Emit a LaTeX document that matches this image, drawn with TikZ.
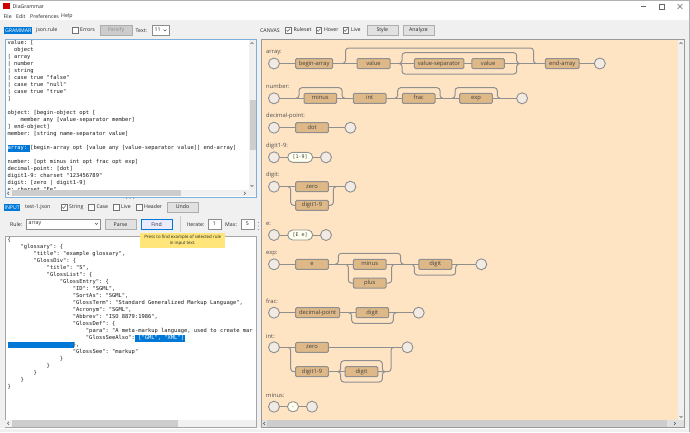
\documentclass[tikz,border=0pt]{standalone}
\usepackage{fontspec}
\setmainfont{Open Sans}
\setmonofont{DejaVu Sans Mono}
\usetikzlibrary{positioning, calc}

\definecolor{wingray}{HTML}{F0F0F0}
\definecolor{canvasbg}{HTML}{FFE4C4}
\definecolor{rulefill}{HTML}{DEB887}
\definecolor{wiregray}{HTML}{8F8F8F}
\definecolor{endfill}{HTML}{F2EBE4}
\definecolor{pillfill}{HTML}{FFFFF0}
\definecolor{selblue}{HTML}{0078D7}
\definecolor{barthumb}{HTML}{CDCDCD}
\definecolor{btnfill}{HTML}{E1E1E1}
\definecolor{btnline}{HTML}{ADADAD}
\definecolor{tipfill}{HTML}{FFE57A}
\definecolor{focusblue}{HTML}{7FB0DC}

\newcommand\uifont{\fontsize{5.2}{6.2}\selectfont}
\newcommand\indt[1]{\hspace*{#1\dimexpr 3.27pt\relax}}

\begin{document}
\begin{tikzpicture}[
    x=1pt, y=-1pt,
    rulebox/.style={rectangle, rounded corners=1.2pt, draw=wiregray, line width=1pt, fill=rulefill, minimum height=10pt, text height=4.2pt, text depth=1.2pt, inner sep=0pt, outer sep=0pt, text=black!75, font=\fontsize{5.8}{6.5}\selectfont},
    endpt/.style={circle, draw=wiregray, line width=.9pt, fill=endfill, minimum size=11pt, inner sep=0pt, outer sep=0pt},
    pill/.style={rectangle, rounded corners=5pt, draw=wiregray, line width=.9pt, fill=pillfill, minimum height=10pt, text height=4.2pt, text depth=1.2pt, inner sep=0pt, outer sep=0pt, text=black!75, font=\ttfamily\fontsize{5}{6}\selectfont},
    wire/.style={draw=wiregray, line width=1pt, rounded corners=3pt},
    hop/.style={to path={-- ($(\tikztostart)+(3,0)$) -- ($(\tikztostart)+(3,#1)$) -- ($(\tikztotarget)+(-3,#1)$) -- ($(\tikztotarget)+(-3,0)$) -- (\tikztotarget)}},
    rulename/.style={anchor=west, inner sep=0pt, text=black!70, font=\fontsize{5.8}{6.5}\selectfont},
    uitext/.style={anchor=west, inner sep=0pt, text=black!85, font=\uifont},
    tag/.style={anchor=west, inner sep=0pt, fill=selblue, text=white, minimum height=6.8pt, font=\uifont},
    btn/.style={rectangle, draw=btnline, fill=btnfill, line width=.6pt, minimum width=31pt, minimum height=10pt, inner sep=0pt, text=black!85, font=\uifont},
    chk/.style={rectangle, draw=black!55, fill=white, line width=.4pt, minimum size=5.6pt, inner sep=0pt},
    chkon/.style={chk, path picture={\draw[black!70, line width=.45pt] ($(path picture bounding box.center)+(-1.8,0)$) -- ++(1.2,1.4) -- ++(2.3,-2.8);}},
    field/.style={rectangle, draw=black!45, fill=white, line width=.4pt, inner sep=0pt, minimum height=10pt, text=black!85, font=\uifont},
    combo/.style={field, inner xsep=2.5pt, align=left},
    panel/.style={rectangle, anchor=north west, fill=white, inner sep=0pt},
    code/.style={anchor=north west, inner sep=0pt, align=left, text=black!90, font=\ttfamily\fontsize{5.43}{7}\selectfont},
    selbar/.style={anchor=west, fill=selblue, inner sep=0pt, minimum height=6.9pt},
    thumb/.style={fill=barthumb, draw=none},
    tick/.style={draw=black!65, line width=.5pt}
]
\useasboundingbox (0,0) rectangle (690,432);

% Window
\fill[wingray] (0,0) rectangle (690,432);
\fill[white] (0,1) rectangle (689,20);
\fill[black!30] (0,0) rectangle (690,.8);
\fill[black!30] (689,0) rectangle (690,432);
\fill[white] (0,428) rectangle (689,429);
\draw[black!60, line width=.5pt] (640.5,6.5) -- (645.5,6.5);
\draw[black!60, line width=.5pt] (659,4) rectangle (664,9);
\draw[black!60, line width=.5pt] (677.5,4) -- (682.5,9) (682.5,4) -- (677.5,9);

% Title and menu
\node[rectangle, fill=red!80!black, minimum width=6.5pt, minimum height=6pt, inner sep=0pt] (appIcon) at (6.6,6.2) {};
\node[uitext, right=2.4pt of appIcon] (appTitle) {DiaGrammar};
\node[uitext] (mnuFile) at (3.3,16.5) {File};
\node[uitext] (mnuEdit) at (16,16.5) {Edit};
\node[uitext] (mnuPrefs) at (30,16.5) {Preferences};
\node[uitext] (mnuHelp) at (61,16.5) {Help};

% Grammar toolbar
\node[tag, minimum width=28pt] (tagGrammar) at (4,30.5) {GRAMMAR};
\node[uitext] (txtRuleFile) at (36,30.5) {json.rule};
\node[chk] (chkErrors) at (75,30) {};
\node[uitext, right=2pt of chkErrors] (txtErrors) {Errors};
\node[btn, minimum width=32pt, fill=black!20, text=black!45] (btnParsify) at (116,30) {Parsify};
\node[uitext] (txtSize) at (135.5,30.5) {Text:};
\node[combo, anchor=west, text width=12pt] (fldSize) at (152,30) {11};
\draw[tick] (163.5,29.5) -- (165,31) -- (166.5,29.5);

% Grammar panel
\node[panel, minimum width=251pt, minimum height=157pt] (grammarPanel) at (5,39.5) {};
\node[selbar, minimum width=22.7pt] (selArray) at (7.3,148.3) {};
\node[code] (grammarText) at (7.3,40.4) {value: [\\
\indt{2}object\\
| array\\
| number\\
| string\\
| case true "false"\\
| case true "null"\\
| case true "true"\\
]\\
\mbox{}\\
object: [begin-object opt [\\
\indt{4}member any [value-separator member]\\
] end-object]\\
member: [string name-separator value]\\
\mbox{}\\
\textcolor{white}{array:} [begin-array opt [value any [value-separator value]] end-array]\\
\mbox{}\\
number: [opt minus int opt frac opt exp]\\
decimal-point: [dot]\\
digit1-9: charset "123456789"\\
digit: [zero | digit1-9]\\
e: charset "Ee"};
\fill[wingray] (249,40) rectangle (256,196);
\fill[wingray] (5,190) rectangle (256,196);
\fill[thumb] (249.5,100) rectangle (255.5,150);
\fill[thumb] (12,190) rectangle (181,196);
\draw[tick] (250.5,44) -- (252,42.5) -- (253.5,44);
\draw[tick] (250.5,185) -- (252,186.5) -- (253.5,185);
\draw[tick] (9,191.8) -- (7.5,193.3) -- (9,194.8);
\draw[tick] (244,191.8) -- (245.5,193.3) -- (244,194.8);
\draw[focusblue, line width=.8pt] (grammarPanel.north west) rectangle (grammarPanel.south east);
\foreach \dotx in {126.5,130,133.5} \fill[black!50] (\dotx,198.3) circle (.45);

% Input toolbar
\node[tag, minimum width=16pt] (tagInput) at (4,207.5) {INPUT};
\node[uitext] (txtInputFile) at (25,207.5) {test-1.json};
\node[chkon] (chkString) at (64,207) {};
\node[uitext, right=2pt of chkString] (txtString) {String};
\node[chk] (chkCase) at (91.3,207) {};
\node[uitext, right=2pt of chkCase] (txtCase) {Case};
\node[chk] (chkLive) at (116,207) {};
\node[uitext, right=2pt of chkLive] (txtLive) {Live};
\node[chk] (chkHeader) at (139,207) {};
\node[uitext, right=2pt of chkHeader] (txtHeader) {Header};
\node[btn] (btnUndo) at (182.5,207) {Undo};
\draw[black!20, line width=.4pt] (180,216) -- (180,232);

% Rule selector
\node[uitext] (txtRule) at (10,224.5) {Rule:};
\node[combo, anchor=west, text width=69pt] (fldRule) at (26,224) {array};
\draw[tick] (95,223) -- (96.5,224.5) -- (98,223);
\node[btn] (btnParse) at (120.5,224.5) {Parse};
\node[btn, fill=blue!8, draw=selblue] (btnFind) at (156.5,224.5) {Find};
\node[uitext] (txtIterate) at (187,224.5) {Iterate:};
\node[field, anchor=west, minimum width=12.5pt] (fldIterate) at (208,224) {1};
\node[uitext] (txtMax) at (225,224.5) {Max:};
\node[field, anchor=west, minimum width=12.5pt] (fldMax) at (241,224) {5};

% Input panel
\node[panel, draw=black!35, line width=.5pt, minimum width=251pt, minimum height=191pt] (inputPanel) at (5,236) {};
\node[selbar, minimum width=50pt] (selSeeAlso) at (135,338.2) {};
\node[selbar, minimum width=66pt] (selBlank) at (7.3,345) {};
\node[code] (inputText) at (7.3,237.1) {\{\\
\indt{4}"glossary": \{\\
\indt{8}"title": "example glossary",\\
\indt{8}"GlossDiv": \{\\
\indt{12}"title": "S",\\
\indt{12}"GlossList": \{\\
\indt{16}"GlossEntry": \{\\
\indt{20}"ID": "SGML",\\
\indt{20}"SortAs": "SGML",\\
\indt{20}"GlossTerm": "Standard Generalized Markup Language",\\
\indt{20}"Acronym": "SGML",\\
\indt{20}"Abbrev": "ISO 8879:1986",\\
\indt{20}"GlossDef": \{\\
\indt{24}"para": "A meta-markup language, used to create mar\\
\indt{24}"GlossSeeAlso": \textcolor{white}{["GML", "XML"]}\\
\indt{20}\},\\
\indt{20}"GlossSee": "markup"\\
\indt{16}\}\\
\indt{12}\}\\
\indt{8}\}\\
\indt{4}\}\\
\}};
\fill[wingray] (5.3,420) rectangle (255.7,426.7);
\fill[thumb] (12,420) rectangle (178,426.5);
\draw[tick] (9,421.8) -- (7.5,423.3) -- (9,424.8);

% Tooltip
\node[rectangle, anchor=north west, fill=tipfill, minimum width=85pt, minimum height=15pt, inner sep=0pt, align=center, text=black!85, font=\fontsize{4.4}{6.2}\selectfont] (tipFind) at (140,233) {Press to find example of selected rule\\in input text.};

% Splitter
\foreach \doty in {222.5,226,229.5} \fill[black!50] (258.4,\doty) circle (.45);

% Canvas toolbar
\node[uitext] (txtCanvas) at (260,30.5) {CANVAS};
\node[chkon] (chkRuleset) at (288.3,30) {};
\node[uitext, right=2pt of chkRuleset] (txtRuleset) {Ruleset};
\node[chkon] (chkHover) at (318.8,30) {};
\node[uitext, right=2pt of chkHover] (txtHover) {Hover};
\node[chkon] (chkCanvasLive) at (345.8,30) {};
\node[uitext, right=2pt of chkCanvasLive] (txtCanvasLive) {Live};
\node[btn] (btnStyle) at (382.3,30) {Style};
\node[btn] (btnAnalyze) at (418.5,30) {Analyze};

% Canvas
\fill[canvasbg] (261,39.5) rectangle (678,420);
\fill[wingray] (678,39.5) rectangle (684,420);
\fill[black!12] (261,420) rectangle (684,427);
\fill[thumb] (267,420) rectangle (667,427);
\draw[black!40, line width=.5pt] (261,39.5) rectangle (684,427);
\draw[tick] (679.5,44) -- (681,42.5) -- (682.5,44);
\draw[tick] (679.5,416) -- (681,417.5) -- (682.5,416);
\draw[tick] (674,422) -- (675.5,423.5) -- (674,425);
\draw[tick] (265,422) -- (263.5,423.5) -- (265,425);

% array
\node[rulename] (arrName) at (266,52.3) {array:};
\node[endpt] (arrStart) at (274,63.5) {};
\node[rulebox, minimum width=37pt, right=16.2pt of arrStart] (arrBegin) {begin-array};
\node[rulebox, minimum width=33pt, right=24.3pt of arrBegin] (arrValue) {value};
\node[rulebox, minimum width=49.5pt, right=24.3pt of arrValue] (arrSep) {value-separator};
\node[rulebox, minimum width=32.6pt, right=8pt of arrSep] (arrValueB) {value};
\node[rulebox, minimum width=33.7pt, right=41pt of arrValueB] (arrEnd) {end-array};
\node[endpt, right=15.2pt of arrEnd] (arrStop) {};
\coordinate (arrOverL) at (342.5,63.5);
\coordinate (arrOverR) at (536.5,63.5);
\coordinate (arrMoreL) at (399,63.5);
\coordinate (arrMoreR) at (519.7,63.5);
\draw[wire] (arrStart) -- (arrBegin);
\draw[wire] (arrBegin) -- (arrValue);
\draw[wire] (arrValue) -- (arrSep);
\draw[wire] (arrSep) -- (arrValueB);
\draw[wire] (arrValueB) -- (arrEnd);
\draw[wire] (arrEnd) -- (arrStop);
\draw[wire] (arrOverL) to[hop=-15.5] (arrOverR);
\draw[wire] (arrMoreL) to[hop=-10.8] (arrMoreR);
\draw[wire] (arrMoreL) to[hop=10.6] (arrMoreR);

% number
\node[rulename] (numName) at (266,86.7) {number:};
\node[endpt] (numStart) at (274,98.3) {};
\node[rulebox, minimum width=32.7pt, right=24.5pt of numStart] (numMinus) {minus};
\node[rulebox, minimum width=32.7pt, right=16.6pt of numMinus] (numInt) {int};
\node[rulebox, minimum width=32.7pt, right=16.3pt of numInt] (numFrac) {frac};
\node[rulebox, minimum width=32.7pt, right=24.7pt of numFrac] (numExp) {exp};
\node[endpt, right=24.2pt of numExp] (numStop) {};
\coordinate (numOptL) at (296,98.3);
\coordinate (numOptR) at (345,98.3);
\coordinate (numFracL) at (394.7,98.3);
\coordinate (numFracR) at (443,98.3);
\coordinate (numExpL) at (452,98.3);
\coordinate (numExpR) at (500.3,98.3);
\draw[wire] (numStart) -- (numMinus);
\draw[wire] (numMinus) -- (numInt);
\draw[wire] (numInt) -- (numFrac);
\draw[wire] (numFrac) -- (numExp);
\draw[wire] (numExp) -- (numStop);
\draw[wire] (numOptL) to[hop=-10.6] (numOptR);
\draw[wire] (numFracL) to[hop=-10.6] (numFracR);
\draw[wire] (numExpL) to[hop=-10.6] (numExpR);

% decimal-point
\node[rulename] (decName) at (266,116) {decimal-point:};
\node[endpt] (decStart) at (274,127.7) {};
\node[rulebox, minimum width=32.7pt, right=16.2pt of decStart] (decDot) {dot};
\node[endpt, right=16.5pt of decDot] (decStop) {};
\draw[wire] (decStart) -- (decDot);
\draw[wire] (decDot) -- (decStop);

% digit1-9
\node[rulename] (nineName) at (266,146) {digit1-9:};
\node[endpt] (nineStart) at (274,157.3) {};
\node[pill, minimum width=25pt, right=8.2pt of nineStart] (nineSet) {[1-9]};
\node[endpt, right=7.8pt of nineSet] (nineStop) {};
\draw[wire] (nineStart) -- (nineSet);
\draw[wire] (nineSet) -- (nineStop);

% digit
\node[rulename] (digName) at (266,175.3) {digit:};
\node[endpt] (digStart) at (274,186.7) {};
\node[rulebox, minimum width=32.7pt, right=16.2pt of digStart] (digZero) {zero};
\node[rulebox, minimum width=32.7pt, below=8.6pt of digZero] (digNine) {digit1-9};
\node[endpt, right=16.5pt of digZero] (digStop) {};
\coordinate (digBrL) at (287.7,186.7);
\coordinate (digBrR) at (336.3,186.7);
\draw[wire] (digStart) -- (digZero);
\draw[wire] (digZero) -- (digStop);
\draw[wire] (digBrL) -- ++(3,0) |- (digNine);
\draw[wire] (digNine) -| ($(digBrR)+(-3,0)$) -- (digBrR);

% e
\node[rulename] (eName) at (266,223.7) {e:};
\node[endpt] (eStart) at (274,235) {};
\node[pill, minimum width=25pt, right=8.2pt of eStart] (eSet) {[E e]};
\node[endpt, right=7.8pt of eSet] (eStop) {};
\draw[wire] (eStart) -- (eSet);
\draw[wire] (eSet) -- (eStop);

% exp
\node[rulename] (expName) at (266,253.3) {exp:};
\node[endpt] (expStart) at (274,264.3) {};
\node[rulebox, minimum width=32.7pt, right=16.2pt of expStart] (expE) {e};
\node[rulebox, minimum width=32.7pt, right=25pt of expE] (expMinus) {minus};
\node[rulebox, minimum width=32.7pt, below=8.7pt of expMinus] (expPlus) {plus};
\node[rulebox, minimum width=33pt, right=32.7pt of expMinus] (expDigit) {digit};
\node[endpt, right=24pt of expDigit] (expStop) {};
\coordinate (expOverL) at (335.3,264.3);
\coordinate (expOverR) at (403.7,264.3);
\coordinate (expBrL) at (345.3,264.3);
\coordinate (expBrR) at (394.7,264.3);
\coordinate (expRepL) at (411.3,264.3);
\coordinate (expRepR) at (458.7,264.3);
\draw[wire] (expStart) -- (expE);
\draw[wire] (expE) -- (expMinus);
\draw[wire] (expMinus) -- (expDigit);
\draw[wire] (expDigit) -- (expStop);
\draw[wire] (expOverL) to[hop=-11] (expOverR);
\draw[wire] (expBrL) -- ++(3,0) |- (expPlus);
\draw[wire] (expPlus) -| ($(expBrR)+(-3,0)$) -- (expBrR);
\draw[wire] (expRepL) to[hop=10.7] (expRepR);

% frac
\node[rulename] (fracName) at (266,301.3) {frac:};
\node[endpt] (fracStart) at (274,312.7) {};
\node[rulebox, minimum width=44pt, right=16.2pt of fracStart] (fracPoint) {decimal-point};
\node[rulebox, minimum width=32.7pt, right=16.3pt of fracPoint] (fracDigit) {digit};
\node[endpt, right=24.5pt of fracDigit] (fracStop) {};
\coordinate (fracRepL) at (348.7,312.7);
\coordinate (fracRepR) at (396.3,312.7);
\draw[wire] (fracStart) -- (fracPoint);
\draw[wire] (fracPoint) -- (fracDigit);
\draw[wire] (fracDigit) -- (fracStop);
\draw[wire] (fracRepL) to[hop=10.6] (fracRepR);

% int
\node[rulename] (intName) at (266,336) {int:};
\node[endpt] (intStart) at (274,347.3) {};
\node[rulebox, minimum width=32.7pt, right=16.2pt of intStart] (intZero) {zero};
\node[rulebox, minimum width=32.7pt, below=14.4pt of intZero] (intNine) {digit1-9};
\node[rulebox, minimum width=32.7pt, right=16.7pt of intNine] (intDigit) {digit};
\node[endpt, right=73.5pt of intZero] (intStop) {};
\coordinate (intBrL) at (287.7,347.3);
\coordinate (intBrR) at (394,347.3);
\coordinate (intRepL) at (337.7,371.7);
\coordinate (intRepR) at (385.3,371.7);
\draw[wire] (intStart) -- (intZero);
\draw[wire] (intZero) -- (intStop);
\draw[wire] (intBrL) -- ++(3,0) |- (intNine);
\draw[wire] (intNine) -- (intDigit);
\draw[wire] (intDigit) -| ($(intBrR)+(-3,0)$) -- (intBrR);
\draw[wire] (intRepL) to[hop=-11] (intRepR);
\draw[wire] (intRepL) to[hop=10.3] (intRepR);

% minus
\node[rulename] (minName) at (266,395) {minus:};
\node[endpt] (minStart) at (274,406.7) {};
\node[pill, minimum width=11pt, right=8pt of minStart] (minSet) {-};
\node[endpt, right=8pt of minSet] (minStop) {};
\draw[wire] (minStart) -- (minSet);
\draw[wire] (minSet) -- (minStop);

\end{tikzpicture}
\end{document}
